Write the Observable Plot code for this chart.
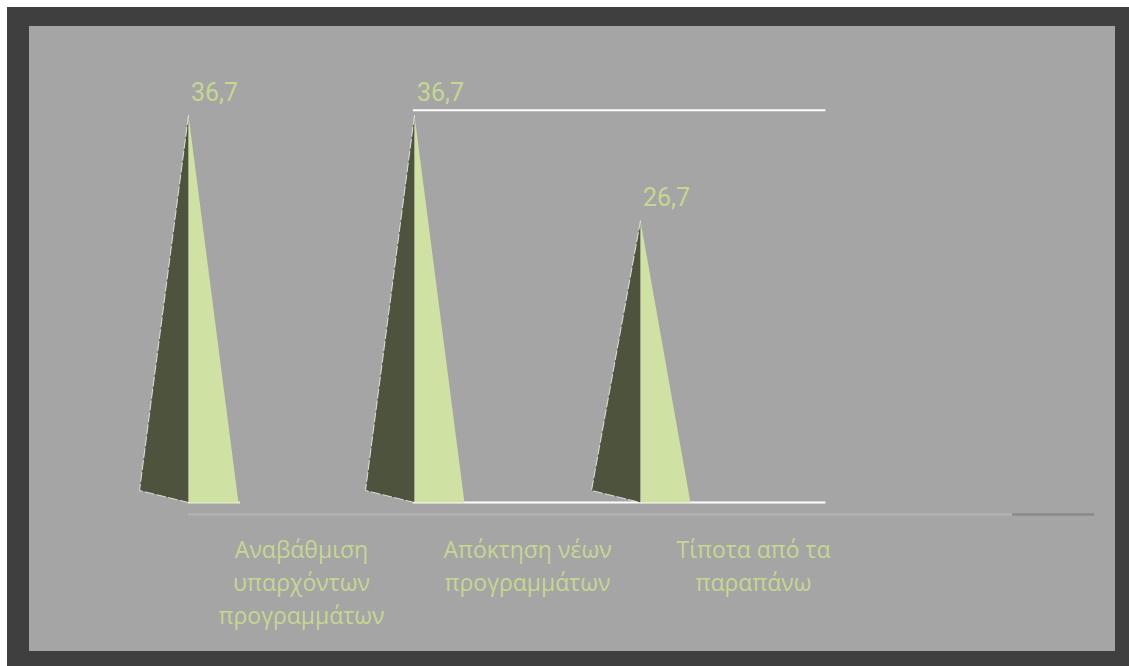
<!DOCTYPE html>
<html lang="el">
<head>
<meta charset="utf-8">
<script src="https://cdn.jsdelivr.net/npm/d3@7"></script>
<script src="https://cdn.jsdelivr.net/npm/@observablehq/plot@0.6"></script>
<style>
  html, body { margin: 0; padding: 0; background: #fff; overflow: hidden; }
  #page { position: relative; width: 1129px; height: 666px; }
  #frame { position: absolute; left: 7px; top: 7px; right: 0; bottom: 0; background: #3f3f3f; }
  #panel { position: absolute; left: 29px; top: 26px; width: 1086px; height: 625px; background: #a5a5a5; }
  #chart { position: absolute; left: 0; top: 0; }
  #chart svg { display: block; background: transparent; }
  #chart .cat text { font-family: "Open Sans", sans-serif; }
  #chart .val text { font-family: Roboto, sans-serif; font-weight: 400; }
</style>
</head>
<body>
<div id="page">
  <div id="frame"></div>
  <div id="panel"></div>
  <div id="chart"></div>
</div>
<script>
// Survey answers and their percentages
const categories = ["Αναβάθμιση\nυπαρχόντων\nπρογραμμάτων", "Απόκτηση νέων\nπρογραμμάτων", "Τίποτα από τα\nπαραπάνω"];
const values = [36.7, 36.7, 26.7];
const slots = [0, 1, 2];

// Cone proportions and the two pale reference lines, in axis units
const halfBase = 0.221;
const rearOffset = 1.14;
const gridTop = 37.2;
const gridStart = 0.995;
const gridEnd = 2.82;
const axisSplit = 3.646;

const green = "#cfe1a3";
const shade = "#4d533c";
const labelGreen = "#c6d792";

// Each cone is two flat faces meeting on the vertical centre line
const darkFaces = values.flatMap((v, i) => [
  {s: i, x: slots[i], y: v},
  {s: i, x: slots[i] - halfBase * 0.98, y: rearOffset},
  {s: i, x: slots[i], y: 0}
]);
const lightFaces = values.flatMap((v, i) => [
  {s: i, x: slots[i], y: v},
  {s: i, x: slots[i], y: 0},
  {s: i, x: slots[i] + halfBase, y: 0}
]);
const rows = values.map((v, i) => ({slot: slots[i], value: v, name: categories[i]}));

const chart = Plot.plot({
  width: 1129,
  height: 666,
  margin: 0,
  style: {background: "transparent"},
  x: {domain: [0, 4], range: [188, 1092], axis: null},
  y: {domain: [0, 36.7], range: [502, 115], axis: null},
  marks: [
    // pale grid lines spanning the last two cones
    Plot.ruleY([gridTop, 0], {x1: gridStart, x2: gridEnd, stroke: "#ffffff", strokeWidth: 2}),
    Plot.ruleY([0], {x1: 0, x2: 0.23, stroke: "#e9efd6", strokeWidth: 2}),
    // category axis line below the cones
    Plot.ruleY([0], {x1: 0, x2: axisSplit, dy: 12, stroke: "#b4b4b4", strokeWidth: 2}),
    Plot.ruleY([0], {x1: axisSplit, x2: 4.01, dy: 12, stroke: "#8a8a8a", strokeWidth: 2.5}),
    // cone faces
    Plot.line(darkFaces, {x: "x", y: "y", z: "s", fill: shade, stroke: null, curve: "linear-closed"}),
    Plot.line(lightFaces, {x: "x", y: "y", z: "s", fill: green, stroke: null, curve: "linear-closed"}),
    Plot.line(darkFaces, {x: "x", y: "y", z: "s", stroke: "#ffffff", strokeWidth: 1, strokeOpacity: 0.75, strokeDasharray: "9 3", curve: "linear"}),
    // percentages above each apex
    Plot.text(rows, {
      x: "slot", y: "value", text: d => d3.format(".1f")(d.value).replace(".", ","),
      dx: 2.5, dy: -23, textAnchor: "start", fill: labelGreen,
      fontSize: 25, className: "val"
    }),
    // category names centred in each slot
    Plot.text(rows, {
      x: d => d.slot + 0.5, y: 0, text: "name",
      dy: 32, lineAnchor: "top", lineHeight: 1.435, textAnchor: "middle", fill: labelGreen,
      fontSize: 23, className: "cat"
    })
  ]
});
document.getElementById("chart").append(chart);
</script>
</body>
</html>
